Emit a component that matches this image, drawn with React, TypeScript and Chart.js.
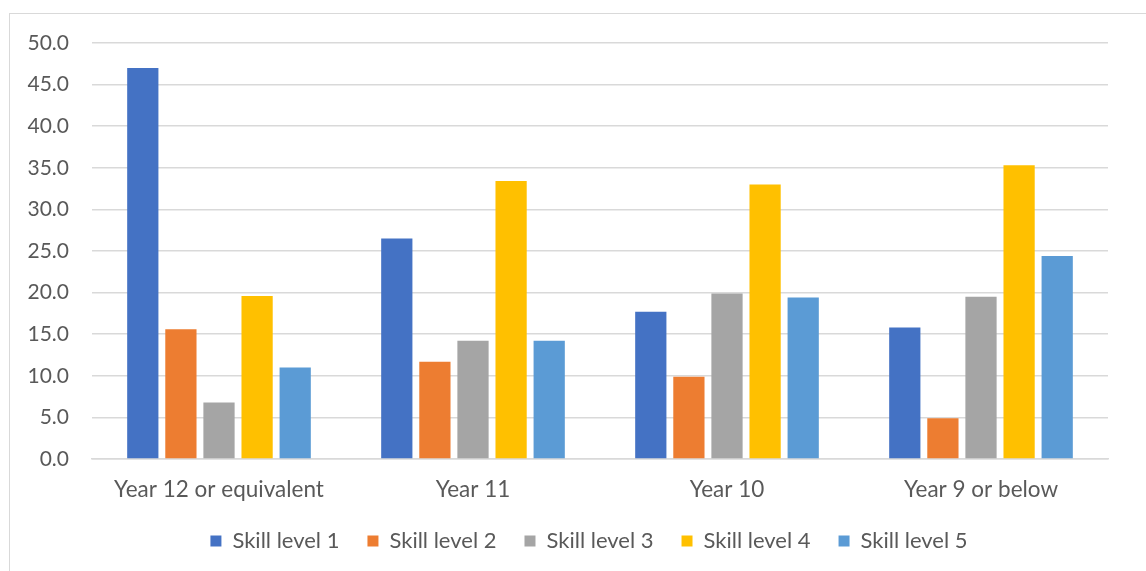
import React, { useEffect, useRef } from "react";
import { Chart, registerables } from "chart.js";

Chart.register(...registerables);

const categories = ["Year 12 or equivalent", "Year 11", "Year 10", "Year 9 or below"];
const seriesNames = ["Skill level 1", "Skill level 2", "Skill level 3", "Skill level 4", "Skill level 5"];
const skill1 = [47.0, 26.5, 17.7, 15.8];
const skill2 = [15.6, 11.7, 9.9, 4.9];
const skill3 = [6.8, 14.2, 19.9, 19.5];
const skill4 = [19.6, 33.4, 33.0, 35.3];
const skill5 = [11.0, 14.2, 19.4, 24.4];
const seriesColors = ["#4472C4", "#ED7D31", "#A5A5A5", "#FFC000", "#5B9BD5"];

const FONT = "Lato, 'Noto Sans', sans-serif";
const TEXT = "#595959";

const legendShift = {
  id: "legendShift",
  afterLayout(chart: any) {
    const lg = chart.legend;
    if (lg) {
      lg.left += 11;
      lg.right += 11;
    }
  },
};

export default function App() {
  const ref = useRef<HTMLCanvasElement | null>(null);
  useEffect(() => {
    if (!ref.current) return;
    const values = [skill1, skill2, skill3, skill4, skill5];
    const chart = new Chart(ref.current, {
      type: "bar",
      data: {
        labels: categories,
        datasets: seriesNames.map((name, i) => ({
          label: name,
          data: values[i],
          backgroundColor: seriesColors[i],
          borderWidth: 0,
          categoryPercentage: 0.75,
          barPercentage: 0.82,
          yAxisID: "y",
        })),
      },
      plugins: [legendShift],
      options: {
        responsive: false,
        animation: false,
        devicePixelRatio: 1,
        layout: { padding: { left: 10, right: 0, top: 43, bottom: 9 } },
        plugins: {
          tooltip: { enabled: false },
          legend: {
            position: "bottom",
            labels: {
              boxWidth: 11,
              boxHeight: 11,
              padding: 28,
              color: TEXT,
              font: { family: FONT, size: 22 },
            },
          },
        },
        scales: {
          x: {
            grid: { display: false },
            border: { display: true, color: "#d9d9d9", width: 1.5 },
            ticks: { color: TEXT, font: { family: FONT, size: 22.5 }, padding: 9, maxRotation: 0 },
            afterFit: (s: any) => { s.height = 43; },
          },
          y: {
            position: "left",
            min: 0,
            max: 50,
            grid: { color: "#d9d9d9", lineWidth: 1.5, drawTicks: false },
            border: { display: false },
            ticks: {
              stepSize: 5,
              padding: 23,
              color: TEXT,
              font: { family: FONT, size: 21 },
              callback: (v: any) => Number(v).toFixed(1),
            },
            afterFit: (s: any) => { s.width = 82; },
          },
          y2: {
            position: "right",
            display: true,
            grid: { display: false, drawTicks: false },
            border: { display: false },
            ticks: { display: false },
            afterFit: (s: any) => { s.width = 38; },
          },
        },
      },
    } as any);
    return () => chart.destroy();
  }, []);
  return (
    <div style={{ position: "fixed", left: 0, top: 0, width: 1146, height: 571, overflow: "hidden", background: "#fff" }}>
      <div style={{ position: "absolute", left: 9, top: 13, width: 1160, height: 600, border: "1px solid #d9d9d9", boxSizing: "border-box" }} />
      <canvas ref={ref} width={1146} height={571} style={{ position: "absolute", left: 0, top: 0 }} />
    </div>
  );
}
